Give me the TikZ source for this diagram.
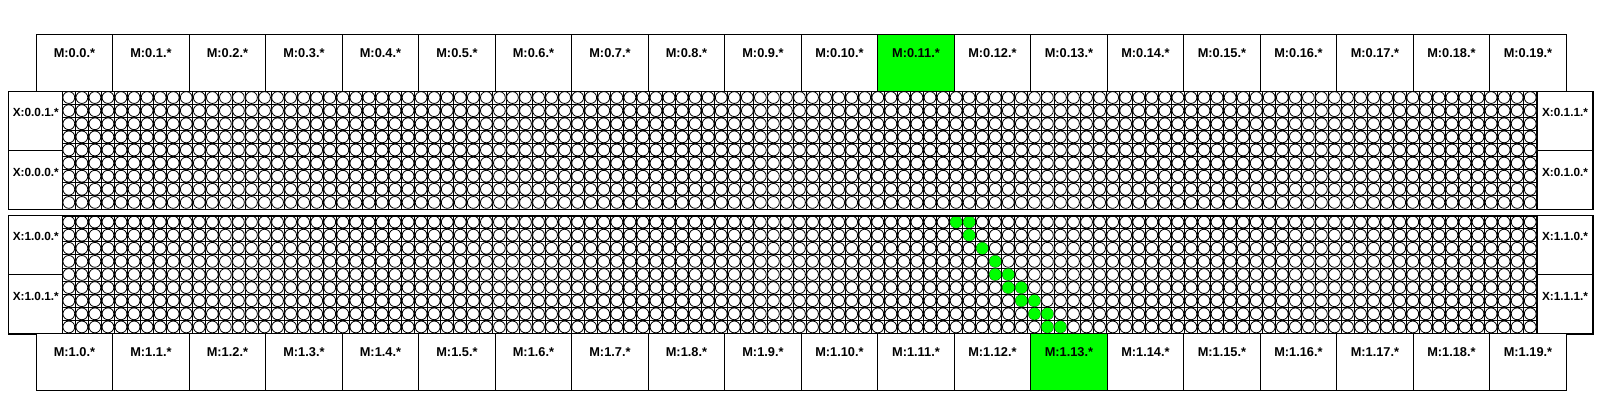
\documentclass[tikz,border=0pt]{standalone}
\usepackage{fontspec}
\setmainfont{Liberation Sans}
\begin{document}
\begin{tikzpicture}[x=0.5pt,y=-0.5pt,
  mbox/.style={draw, line width=0.5pt, inner sep=0pt, minimum width=38.25pt, minimum height=28.35pt, anchor=north west},
  lxbox/.style={draw, fill=white, line width=0.5pt, inner sep=0pt, minimum width=27pt, minimum height=29.5pt, anchor=north west},
  rxbox/.style={draw, fill=white, line width=0.5pt, inner sep=0pt, minimum width=27.8pt, minimum height=29.5pt, anchor=north west},
  band/.style={draw, line width=0.6pt, inner sep=0pt, minimum width=792pt, minimum height=59pt, anchor=north west},
  lbl/.style={font=\fontsize{6.4}{8}\selectfont\bfseries, inner sep=0pt},
  xlbl/.style={font=\fontsize{5.9}{7}\selectfont\bfseries, inner sep=0pt},
  gline/.style={line width=0.4pt, black},
  cell/.style={draw=black, line width=0.4pt, fill=white},
  hot/.style={fill=green, draw=none},
]
\useasboundingbox (0,0) rectangle (1600,400);
\fill[white] (0,0) rectangle (1600,400);

% grids of the two bands
\foreach \yo in {91,215.5} {
  \foreach \r in {0,...,9} {
    \draw[gline] (62.3,\yo+13.11*\r) -- (1536.7,\yo+13.11*\r);
  }
  \foreach \c in {0,...,113} {
    \draw[gline] (62.3+13.048*\c,\yo) -- (62.3+13.048*\c,\yo+117.99);
  }
  \foreach \r in {0,...,8} {
    \foreach \c in {0,...,112} {
      \draw[cell] (68.824+13.048*\c,\yo+6.555+13.11*\r) circle[radius=5.9];
    }
  }
}

% highlighted route in the lower band
\foreach \r/\c in {0/68,0/69,1/69,2/70,3/71,4/71,4/72,5/72,5/73,6/73,6/74,7/74,7/75,8/75,8/76} {
  \fill[hot] (68.824+13.048*\c,215.5+6.555+13.11*\r) circle[radius=6.0];
}

% band outlines
\node[band] (band0) at (8.3,91) {};
\node[band] (band1) at (8.3,215.5) {};

% X boxes
\node[lxbox] (x001) at (8.3,91) {};
\node[xlbl] (lx001) at ([yshift=-10.5pt]x001.north) {X:0.0.1.*};
\node[lxbox] (x000) at (8.3,150) {};
\node[xlbl] (lx000) at ([yshift=-11pt]x000.north) {X:0.0.0.*};
\node[rxbox] (x011) at (1536.7,91) {};
\node[xlbl] (lx011) at ([yshift=-10.5pt]x011.north) {X:0.1.1.*};
\node[rxbox] (x010) at (1536.7,150) {};
\node[xlbl] (lx010) at ([yshift=-11pt]x010.north) {X:0.1.0.*};

\node[lxbox] (x100) at (8.3,215.5) {};
\node[xlbl] (lx100) at ([yshift=-10.5pt]x100.north) {X:1.0.0.*};
\node[lxbox] (x101) at (8.3,274.5) {};
\node[xlbl] (lx101) at ([yshift=-11pt]x101.north) {X:1.0.1.*};
\node[rxbox] (x110) at (1536.7,215.5) {};
\node[xlbl] (lx110) at ([yshift=-10.5pt]x110.north) {X:1.1.0.*};
\node[rxbox] (x111) at (1536.7,274.5) {};
\node[xlbl] (lx111) at ([yshift=-11pt]x111.north) {X:1.1.1.*};

% M boxes
\foreach \i in {0,...,19} {
  \ifnum\i=11 \def\fc{green}\else\def\fc{white}\fi
  \node[mbox, fill=\fc] (mt\i) at (35.7+76.5*\i,34.3) {};
  \node[lbl] (lmt\i) at ([yshift=-9.5pt]mt\i.north) {M:0.\i.*};
}
\foreach \i in {0,...,19} {
  \ifnum\i=13 \def\fc{green}\else\def\fc{white}\fi
  \node[mbox, fill=\fc] (mb\i) at (35.7+76.5*\i,333.5) {};
  \node[lbl] (lmb\i) at ([yshift=-9.2pt]mb\i.north) {M:1.\i.*};
}
\end{tikzpicture}
\end{document}
